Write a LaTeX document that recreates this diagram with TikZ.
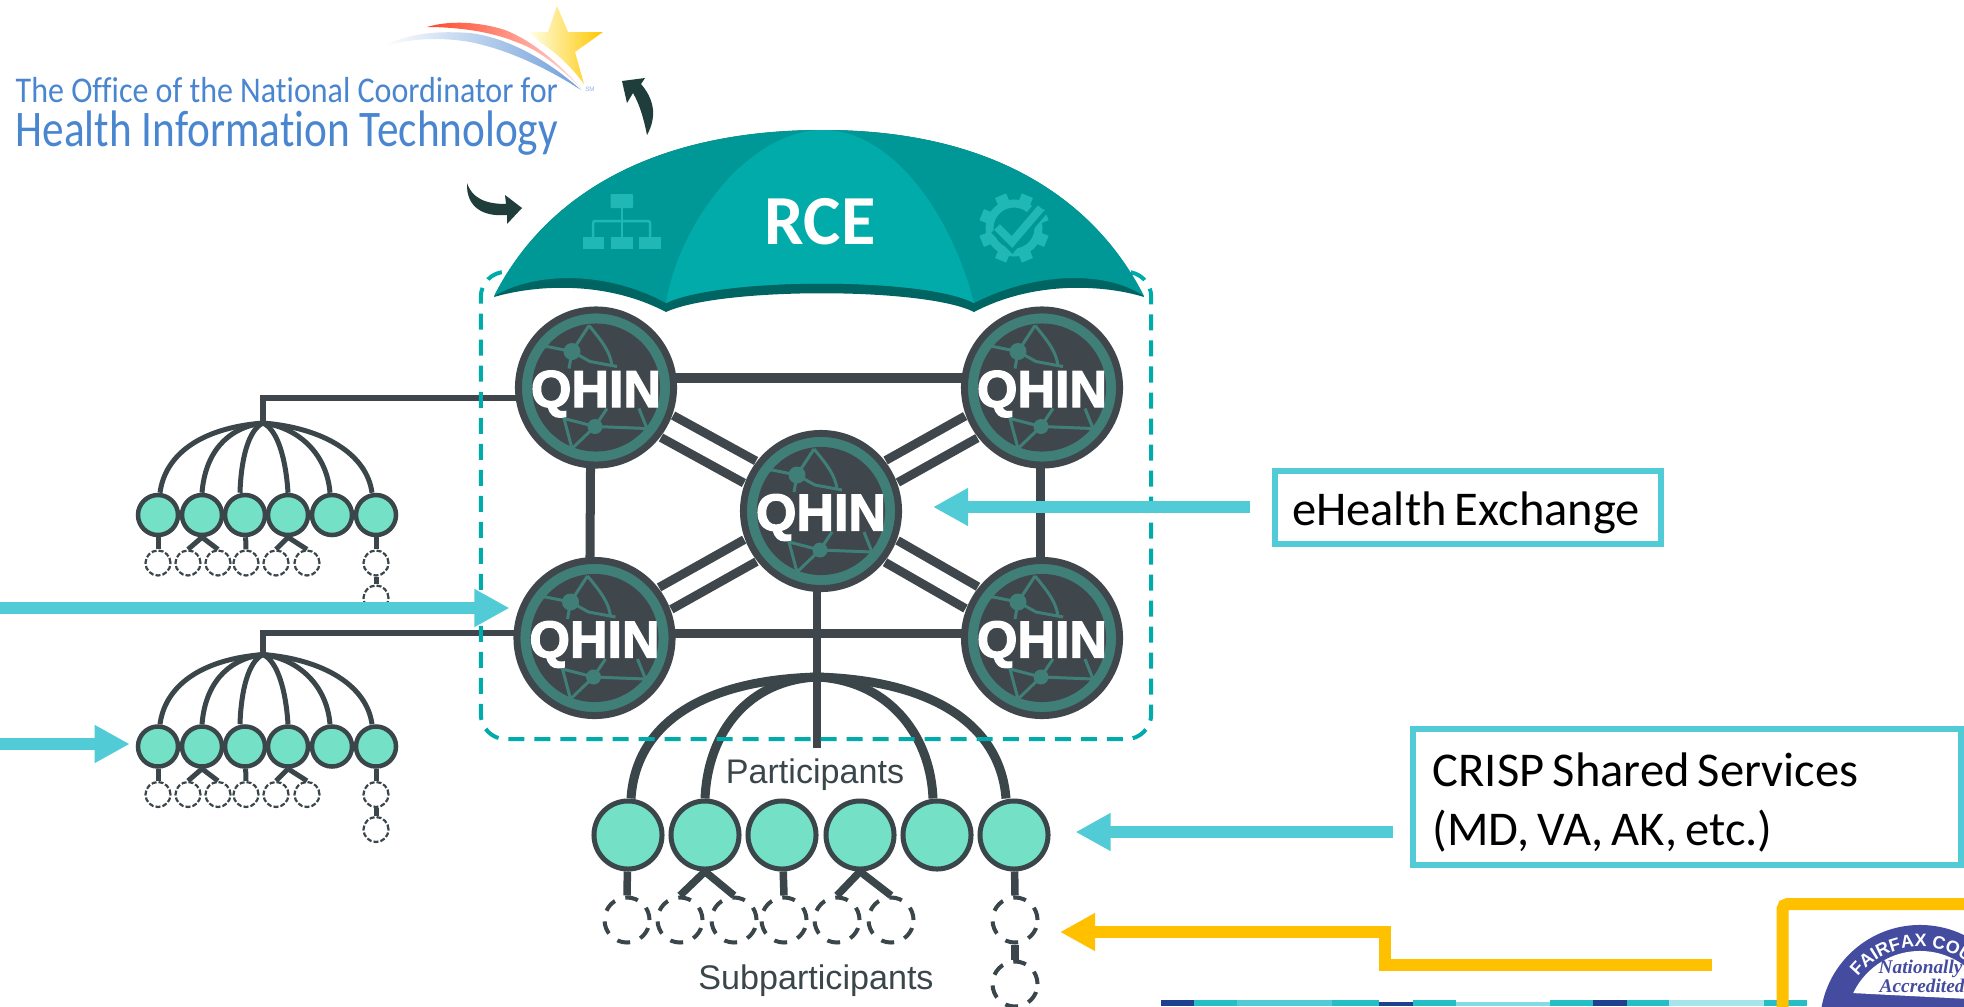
\documentclass[tikz,border=0pt]{standalone}
\usepackage{fontspec}
\usepackage{graphicx}
\usetikzlibrary{arrows.meta,backgrounds,decorations.text,calc}
\setmainfont{Carlito}
\newfontfamily\boxfont[WordSpace=0.75]{Carlito}
\newfontfamily\logofont[Ligatures=NoCommon]{Carlito}
\newfontfamily\labelfont{Liberation Sans}
\newfontfamily\qhinfont{Liberation Sans}[BoldFeatures={FakeBold=2.5}]
\newfontfamily\sealserif{Liberation Serif}
\definecolor{darkline}{HTML}{3B464B}
\definecolor{qhindark}{HTML}{3F474C}
\definecolor{qhinteal}{HTML}{3F7F78}
\definecolor{partfill}{HTML}{74E0C6}
\definecolor{framecol}{HTML}{00ABAB}
\definecolor{umbside}{HTML}{009896}
\definecolor{umbmid}{HTML}{00ABAA}
\definecolor{umbhem}{HTML}{006562}
\definecolor{umbicon}{HTML}{21B7B4}
\definecolor{cyanarrow}{HTML}{51CCD6}
\definecolor{goldline}{HTML}{FFC000}
\definecolor{logoblue}{HTML}{4A86D0}
\definecolor{curlarrow}{HTML}{1F3D3A}
\definecolor{sealblue}{HTML}{444CA0}
\definecolor{stripnavy}{HTML}{1F3F91}
\definecolor{stripteal}{HTML}{25BEC5}
\tikzset{
  x=0.01cm,y=-0.01cm,
  qhinbase/.style={circle,draw=qhindark,fill=qhinteal,line width=0.07cm,minimum size=1.55cm,inner sep=0pt},
  qhinword/.style={text=white,inner sep=0pt,anchor=base,font=\qhinfont\bfseries\fontsize{14.8}{16}\selectfont},
  link/.style={draw=qhindark,line width=0.09cm},
  pnode/.style={circle,draw=darkline,fill=partfill,line width=0.045cm,minimum size=0.4cm,inner sep=0pt},
  snode/.style={circle,draw=darkline,line width=0.022cm,minimum size=0.25cm,inner sep=0pt,dash pattern=on 0.05cm off 0.02cm},
  bigp/.style={circle,draw=darkline,fill=partfill,line width=0.05cm,minimum size=0.68cm,inner sep=0pt},
  bigs/.style={circle,draw=darkline,line width=0.04cm,minimum size=0.45cm,inner sep=0pt,dash pattern=on 0.13cm off 0.11cm},
  treearc/.style={draw=darkline,line width=0.05cm},
  treesub/.style={draw=darkline,line width=0.05cm},
  bigarc/.style={draw=darkline,line width=0.09cm},
  bigsub/.style={draw=darkline,line width=0.075cm},
  bluearrow/.style={draw=cyanarrow,line width=0.125cm,-{Triangle[length=0.35cm,width=0.355cm]}},
  goldarrow/.style={draw=goldline,line width=0.125cm,-{Triangle[length=0.35cm,width=0.355cm]}},
  callout/.style={draw=cyanarrow,line width=0.06cm,fill=white,inner sep=0pt},
  boxtext/.style={inner sep=0pt,font=\boxfont\fontsize{13.8}{16.5}\selectfont},
  greylabel/.style={text=darkline,inner sep=0pt,font=\labelfont\fontsize{9.7}{11}\selectfont,anchor=base},
  qhinglobe/.pic={
    \fill[qhindark] (0,0) circle[radius=0.64cm];
    \begin{scope}[draw=qhinteal,line width=0.03cm]
      \draw (-7,-62) -- (-24,-36) -- (-49,-41) -- (-58,-40);
      \draw (-24,-36) -- (-27,-19);
      \draw (-24,-36) -- (-6,-26) -- (21,-21);
      \draw (-7,-62) .. controls (8,-44) and (14,-35) .. (16,-22);
      \draw (51,41) -- (-1,39) -- (-32,31) -- (-24,61) -- (-1,39) -- (11,21);
      \draw (43,21) -- (51,41);
      \fill[qhinteal] (-24,-36) circle[radius=0.085cm];
      \fill[qhinteal] (-1,39) circle[radius=0.075cm];
    \end{scope}
  }
}
\newcommand{\qhinat}[3]{%
  \node[qhinbase] (#1) at (#2,#3) {};
  \pic at (#1) {qhinglobe};
  \node[qhinword] (#1word) at (#2,#3+19.5) {QHIN};
}
\newcommand{\treegroup}[2]{%
  \coordinate (#1apex) at (263,423+#2);
  \foreach \n/\xx in {1/158,2/202,3/245,4/288,5/332,6/376}
    \node[pnode] (#1p\n) at (\xx,515+#2) {};
  \foreach \n/\xx in {1/158,2/188,3/218,4/246,5/276,6/307,7/376}
    \node[snode] (#1s\n) at (\xx,563+#2) {};
  \node[snode] (#1s8) at (376,598+#2) {};
  \begin{pgfonlayer}{background}
    \draw[treearc] (#1apex) .. controls (200,428+#2) and (165,455+#2) .. ([xshift=0.02cm]#1p1.north);
    \draw[treearc] (#1apex) .. controls (225,428+#2) and (205,455+#2) .. (#1p2.north);
    \draw[treearc] (#1apex) .. controls (248,430+#2) and (241,460+#2) .. ([xshift=-0.05cm]#1p3.north);
    \draw[treearc] (#1apex) .. controls (278,430+#2) and (286,460+#2) .. (#1p4.north);
    \draw[treearc] (#1apex) .. controls (300,428+#2) and (327,455+#2) .. ([xshift=-0.02cm]#1p5.north);
    \draw[treearc] (#1apex) .. controls (325,428+#2) and (367,455+#2) .. ([xshift=-0.04cm]#1p6.north);
    \draw[treesub] (#1p1) -- (#1s1.north);
    \draw[treesub] (#1p2.south) -- (#1s2.north);
    \draw[treesub] (#1p2.south) -- (#1s3.north);
    \draw[treesub] (#1p3) -- (#1s4.north);
    \draw[treesub] (#1p4.south) -- (#1s5.north);
    \draw[treesub] (#1p4.south) -- (#1s6.north);
    \draw[treesub] (#1p6) -- (#1s7.north);
    \draw[treesub] (#1s7.south) -- (#1s8.north);
  \end{pgfonlayer}
}
\begin{document}
\begin{tikzpicture}
\useasboundingbox (0,0) rectangle (1964,1006);
\begin{pgfonlayer}{background}
  \fill[white] (0,0) rectangle (1964,1006);
\end{pgfonlayer}
% ----- nodes
\qhinat{tl}{596}{387.5}
\qhinat{tr}{1042}{387.5}
\qhinat{c}{821}{511}
\qhinat{bl}{594.5}{638}
\qhinat{br}{1042}{638}
\treegroup{g}{0}
\treegroup{h}{231.5}
\coordinate (mainapex) at (817,677);
\coordinate (stemend) at (817,748);
\foreach \n/\xx in {1/628,2/705,3/782,4/860,5/937,6/1014}
  \node[bigp] (p\n) at (\xx,835) {};
\foreach \n/\xx in {1/627,2/680,3/734,4/784,5/837,6/891,7/1015}
  \node[bigs] (s\n) at (\xx,920) {};
\node[bigs] (s8) at (1015,984) {};
\node[greylabel] (partlabel) at (815,783) {Participants};
\node[greylabel] (sublabel) at (816,989) {Subparticipants};
% ----- links on the background layer
\begin{pgfonlayer}{background}
  \foreach \a in {tl,tr,bl,br}{
    \draw[draw=qhindark,line width=0.34cm] (\a) -- (c);
    \draw[draw=white,line width=0.16cm] (\a) -- (c);
  }
  \draw[link] ([yshift=0.095cm]tl.center) -- ([yshift=0.095cm]tr.center);
  \draw[link] ([yshift=0.05cm]bl.center) -- ([yshift=0.05cm]br.center);
  \draw[link] ([xshift=-0.05cm]tl.center) -- ([xshift=-0.05cm]bl.center);
  \draw[link] ([xshift=-0.02cm]tr.center) -- ([xshift=-0.02cm]br.center);
  \draw[link,line width=0.055cm] (gapex) |- ([yshift=-0.105cm]tl.center);
  \draw[link,line width=0.055cm] (hapex) |- ([yshift=0.05cm]bl.center);
  \draw[link,line width=0.08cm] (stemend -| mainapex) -- (stemend |- c);
  \draw[bigarc] (mainapex) .. controls (705,680) and (636,722) .. ([xshift=0.03cm]p1.north);
  \draw[bigarc] (mainapex) .. controls (750,680) and (708,730) .. (p2.north);
  \draw[bigarc] (mainapex) .. controls (884,680) and (930,730) .. ([xshift=-0.04cm]p5.north);
  \draw[bigarc] (mainapex) .. controls (928,680) and (1000,722) .. ([xshift=-0.08cm]p6.north);
  \draw[bigsub] (p1) -- (s1.north);
  \draw[bigsub] (p2.south) -- (s2.north);
  \draw[bigsub] (p2.south) -- (s3.north);
  \draw[bigsub] (p3) -- (s4.north);
  \draw[bigsub] (p4.south) -- (s5.north);
  \draw[bigsub] (p4.south) -- (s6.north);
  \draw[bigsub] (p6) -- (s7.north);
  \draw[bigsub] (s7.south) -- (s8.north);
  \node[draw=framecol,line width=0.04cm,rounded corners=0.25cm,dash pattern=on 0.16cm off 0.10cm,
        minimum width=6.7cm,minimum height=4.67cm,inner sep=0pt] (frame) at (816,505.5) {};
\end{pgfonlayer}
% ----- umbrella
\fill[umbhem] (494,297) .. controls (540,205) and (640,130) .. (823,130)
   .. controls (1000,130) and (1098,205) .. (1144,297)
   .. controls (1105,285) and (1035,280) .. (974,312)
   .. controls (925,287) and (720,287) .. (666,312)
   .. controls (605,280) and (535,285) .. (494,297) -- cycle;
\fill[umbside] (494,296) .. controls (540,205) and (640,130) .. (823,130)
   .. controls (1000,130) and (1098,205) .. (1144,296)
   .. controls (1105,270) and (1035,272) .. (974,303)
   .. controls (925,277) and (720,277) .. (666,303)
   .. controls (605,270) and (535,272) .. (494,296) -- cycle;
\fill[umbmid] (666,303) .. controls (680,220) and (750,130) .. (823,130)
   .. controls (890,130) and (950,210) .. (974,303)
   .. controls (925,277) and (720,277) .. (666,303) -- cycle;
\node[text=white,inner sep=0pt,font=\bfseries\fontsize{20}{24}\selectfont] (rce) at (820,222) {RCE};
% hierarchy icon
\fill[umbicon,rounded corners=0.01cm] (610.5,194) rectangle (633,208);
\fill[umbicon] (582.5,237) rectangle (604,249);
\fill[umbicon] (610.5,237) rectangle (633,249);
\fill[umbicon] (639,237) rectangle (660.5,249);
\draw[umbicon,line width=0.025cm,rounded corners=0.02cm] (593,237) -- (593,221) -- (650,221) -- (650,237);
\draw[umbicon,line width=0.025cm] (622,208) -- (622,237);
% gear icon
\draw[umbicon,line width=0.08cm] (1014,228) circle[radius=0.245cm];
\foreach \a in {22.5,67.5,...,360}
  \draw[umbicon,line width=0.12cm] (1014,228) ++(\a:26) -- ++(\a:9);
\draw[umbside,line width=0.16cm] (997,227) -- (1012,242) -- (1041,208);
\draw[umbicon,line width=0.08cm] (997,227) -- (1012,242) -- (1041,208);
% ----- logo
\shade[left color=white,middle color=white!40!logoblue!60,right color=logoblue!80] (382,47)
  .. controls (410,32) and (440,31) .. (470,33) .. controls (510,38) and (550,62) .. (581,90)
  .. controls (550,70) and (510,50) .. (470,42) .. controls (440,37) and (410,38) .. (382,47) -- cycle;
\shade[left color=red!70!orange!85!white,right color=red!15!white] (427,27)
  .. controls (450,20) and (480,22) .. (505,30) .. controls (535,42) and (560,65) .. (581,88)
  .. controls (560,68) and (540,50) .. (516,42) .. controls (490,31) and (455,27) .. (427,27) -- cycle;
\shade[left color=yellow!10!white,right color=goldline!90!yellow] (557,6) -- (568,32) -- (603,32) -- (575,52) -- (584,84)
  .. controls (570,65) and (555,52) .. (540,42) -- (529,32) -- (548,32) -- cycle;
\node[text=logoblue!60,inner sep=0pt,font=\labelfont\fontsize{1.8}{2}\selectfont] (sm) at (590,89) {SM};
\node[text=logoblue,inner sep=0pt,anchor=base west] (logoa) at (15,102)
  {\resizebox{5.42cm}{\height}{\logofont\fontsize{10.3}{11}\selectfont The Office of the National Coordinator for}};
\node[text=logoblue,inner sep=0pt,anchor=base west] (logob) at (15,146)
  {\resizebox{5.42cm}{\height}{\logofont\fontsize{14.6}{15}\selectfont Health Information Technology}};
% curved arrows
\fill[curlarrow] (647,135) .. controls (658,115) and (653,98) .. (641,84) -- (645,78) -- (622,81) -- (627,103) -- (633,93)
  .. controls (640,105) and (644,120) .. (647,135) -- cycle;
\fill[curlarrow] (467,183) .. controls (472,198) and (485,204) .. (506,204) -- (505,195) -- (522,208) -- (507,224) -- (507,215)
  .. controls (484,217) and (466,208) .. (467,183) -- cycle;
% ----- callouts and arrows
\node[callout,minimum width=3.85cm,minimum height=0.72cm] (ehealth) at (1468,507.5) {};
\node[boxtext,anchor=base] (ehealthtext) at (1466,525) {eHealth Exchange};
\node[callout,minimum width=5.48cm,minimum height=1.36cm] (crisp) at (1687,797) {};
\node[boxtext,align=left,anchor=base west] (crisptext) at (1432,845) {CRISP Shared Services\\(MD, VA, AK, etc.)};
\coordinate (ehealthfrom) at (1250,507);
\coordinate (leftfrom) at (0,608);
\coordinate (lowerfrom) at (0,744);
\coordinate (crispfrom) at (1393,832);
\draw[bluearrow,shorten >=0.31cm] (ehealthfrom) -- (ehealthfrom -| c.east);
\draw[bluearrow,shorten >=0.04cm] (leftfrom) -- (leftfrom -| bl.west);
\draw[bluearrow,shorten >=0.06cm] (lowerfrom) -- (lowerfrom -| hp1.west);
\draw[bluearrow,shorten >=0.25cm] (crispfrom) -- (crispfrom -| p6.east);
\coordinate (goldfrom) at (1712,965);
\coordinate (goldtip) at (1060,932);
\draw[goldarrow] (goldfrom) -- (1385,965) -- (1385,932) -- (goldtip);
% ----- bottom strip
\foreach \xa/\xb/\ya/\col in {1161/1194/1000/stripnavy,1194/1237/1000/stripteal,1237/1332/1000/cyanarrow,
    1332/1379/1000/stripteal,1379/1413/1002/stripnavy,1413/1456/1000/stripteal,1456/1550/1002/cyanarrow!70!white,
    1550/1593/1000/stripteal,1593/1627/1000/stripnavy,1627/1669/1000/stripteal,1669/1764/1000/cyanarrow!50!white,
    1764/1807/1000/stripteal}
  \fill[\col] (\xa,\ya) rectangle (\xb,1006);
% ----- seal
\fill[sealblue] (1920,1025) circle[radius=1.0cm];
\begin{scope}
  \clip (1840,940) -- (1970,940) -- (1970,999) .. controls (1930,997) and (1890,995) .. (1852,993) -- cycle;
  \fill[white] (1920,1025) circle[radius=0.74cm];
\end{scope}
\path[decorate,decoration={text along path,
    text={|\labelfont\bfseries\fontsize{5.1}{6}\selectfont\color{white}|FAIRFAX COU},text align=left}]
   (1857.8,976.7) .. controls (1889.4,937.6) and (1949,937) .. (1981.3,975.6);
\node[text=sealblue,inner sep=0pt,anchor=base west,font=\sealserif\bfseries\itshape\fontsize{5.5}{6}\selectfont] (natl) at (1878,973) {Nationally};
\node[text=sealblue,inner sep=0pt,anchor=base west,font=\sealserif\bfseries\itshape\fontsize{5.5}{6}\selectfont] (accr) at (1879,992) {Accredited};
% ----- gold frame
\draw[goldline,line width=0.12cm,rounded corners=0.05cm] (1782.5,1012) -- (1782.5,904) -- (1970,904);
\end{tikzpicture}
\end{document}
